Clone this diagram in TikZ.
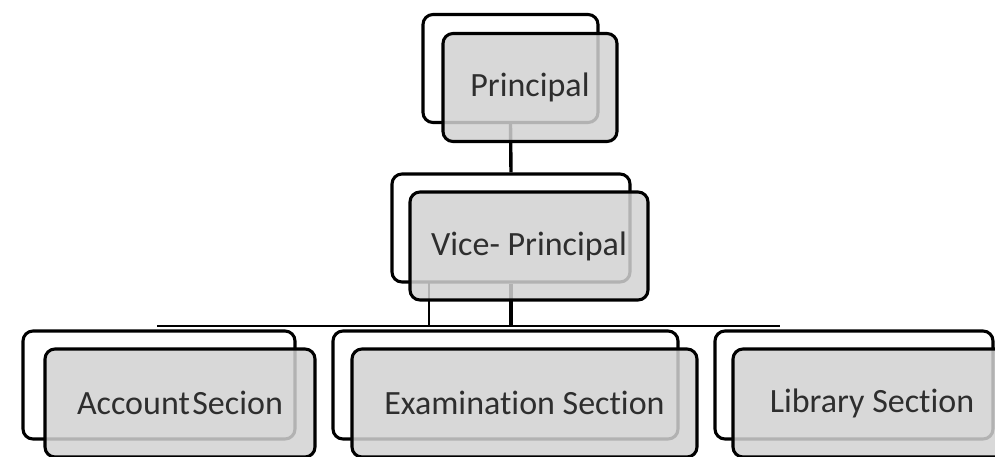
\documentclass[tikz,border=0pt]{standalone}
\usepackage{fontspec}
\setmainfont{Carlito}[Ligatures=NoCommon]
\begin{document}
\begin{tikzpicture}[x=1pt,y=-1pt,
  line width=3.1pt,
  backbox/.style={draw=black,fill=white,rounded corners=10pt,minimum height=108pt,inner sep=0pt},
  frontbox/.style={draw=black,fill=gray!35,fill opacity=0.85,text opacity=1,
    rounded corners=10pt,minimum height=108pt,inner sep=0pt,
    font=\fontsize{34}{40}\selectfont,text=black!82},
  wire/.style={draw=black,line width=3.4pt},
  buswire/.style={draw=black,line width=2.4pt},
  thinwire/.style={draw=black,line width=1.8pt}]
\useasboundingbox (0,0) rectangle (995,456);
\begin{scope}
\clip (0,0) rectangle (995,456);
% connector end points
\coordinate (busL) at (157,326);
\coordinate (busR) at (780,326);
\coordinate (tapA) at (429,283);
\coordinate (tapB) at (429,326);
% back layer
\node[backbox,minimum width=175pt] (pb) at (510.5,68.5) {};
\node[backbox,minimum width=238pt] (vb) at (511,228) {};
\node[backbox,minimum width=272pt] (ab) at (159,385) {};
\node[backbox,minimum width=345pt] (eb) at (505.5,385) {};
\node[backbox,minimum width=278pt] (lb) at (854,385) {};
\draw[wire] (pb.south) -- (vb.north);
\draw[wire] (vb.south) -- (vb.south |- busL);
\draw[thinwire] (tapA) -- (tapB);
\draw[buswire] (busL) -- (busR);
% front layer
\node[frontbox,minimum width=174pt] (pf) at (530,87.5) {Principal};
\node[frontbox,minimum width=238pt] (vf) at (529,246) {Vice- Principal};
\node[frontbox,minimum width=270pt] (af) at (180,403) {Account\hspace{2.5pt}Secion};
\node[frontbox,minimum width=345pt] (ef) at (524.5,403) {Examination Section};
\node[frontbox,minimum width=278pt] (lf) at (872,403) {Library Section};
\end{scope}
\end{tikzpicture}
\end{document}
